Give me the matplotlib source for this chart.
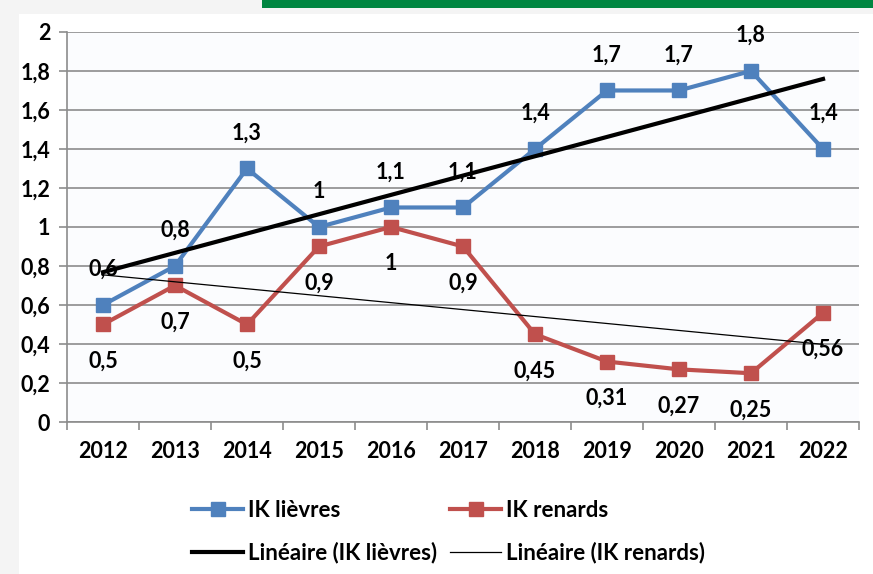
import numpy as np
import matplotlib.pyplot as plt
from matplotlib.patches import Rectangle

years = ["2012", "2013", "2014", "2015", "2016", "2017", "2018", "2019", "2020", "2021", "2022"]
lievres = [0.6, 0.8, 1.3, 1.0, 1.1, 1.1, 1.4, 1.7, 1.7, 1.8, 1.4]
renards = [0.5, 0.7, 0.5, 0.9, 1.0, 0.9, 0.45, 0.31, 0.27, 0.25, 0.56]

plt.rcParams['font.family'] = ['Lato', 'DejaVu Sans']
plt.rcParams['font.weight'] = 'bold'

blue = '#4f81bd'
red = '#c0504d'

fig = plt.figure(figsize=(8.73, 5.74), dpi=100, facecolor='#f4f4f4')
# white panel + green banner at top
fig.patches.append(Rectangle((0.022, 0), 0.978, 0.975, transform=fig.transFigure,
                             facecolor='white', edgecolor='none', zorder=-5))
fig.patches.append(Rectangle((0.300, 0.986), 0.70, 0.014, transform=fig.transFigure,
                             facecolor='#008641', edgecolor='none', zorder=-5))

ax = fig.add_axes([0.0767, 0.2648, 0.9073, 0.6795])
ax.set_facecolor('#fbfcfe')
x = np.arange(len(years))

# trend lines
pl = np.polyfit(x, lievres, 1)
pr = np.polyfit(x, renards, 1)
ax.plot(x, np.polyval(pl, x), color='black', lw=3, zorder=4, label='Linéaire (IK lièvres)')
ax.plot(x, np.polyval(pr, x), color='black', lw=0.9, zorder=4, label='Linéaire (IK renards)')

ax.plot(x, lievres, color=blue, lw=3, marker='s', ms=10, zorder=3, label='IK lièvres')
ax.plot(x, renards, color=red, lw=3, marker='s', ms=10, zorder=3, label='IK renards')

def fmt(v):
    return ('%g' % v).replace('.', ',')

for i, v in enumerate(lievres):
    ax.annotate(fmt(v), (i, v), xytext=(0, 18), textcoords='offset points',
                ha='center', va='bottom', fontsize=15.5, fontweight='bold', zorder=5)
for i, v in enumerate(renards):
    ax.annotate(fmt(v), (i, v), xytext=(0, -19), textcoords='offset points',
                ha='center', va='top', fontsize=15.5, fontweight='bold', zorder=5)

ax.set_xlim(-0.5, 10.5)
ax.set_ylim(0, 2)
yt = np.arange(0, 2.01, 0.2)
ax.set_yticks(yt)
ax.set_yticklabels([fmt(round(t, 1)) for t in yt], fontsize=15.5, fontweight='bold')
ax.yaxis.grid(True, color='#8c8c8c', lw=1.2)
ax.set_axisbelow(True)
ax.set_xticks(x)
ax.set_xticklabels(years, fontsize=15.5, fontweight='bold')
ax.set_xticks(np.arange(-0.5, 11, 1), minor=True)
ax.tick_params(axis='x', which='major', length=0, pad=14)
ax.tick_params(axis='x', which='minor', length=6, color='#8c8c8c', width=1.2)
ax.tick_params(axis='y', length=6, color='#8c8c8c', width=1.2, pad=6)
for s in ['top', 'right']:
    ax.spines[s].set_visible(False)
for s in ['left', 'bottom']:
    ax.spines[s].set_color('#8c8c8c')
    ax.spines[s].set_linewidth(1.2)

h, l = ax.get_legend_handles_labels()
order = [2, 0, 3, 1]
fig.legend([h[i] for i in order], [l[i] for i in order], ncol=2,
           loc='lower left', bbox_to_anchor=(0.205, -0.005), frameon=False,
           fontsize=16, handlelength=2.3, handletextpad=0.2, columnspacing=0.6,
           labelspacing=0.95, borderaxespad=0.2, markerscale=1.0)

fig.savefig('out.png', dpi=100, facecolor=fig.get_facecolor())
